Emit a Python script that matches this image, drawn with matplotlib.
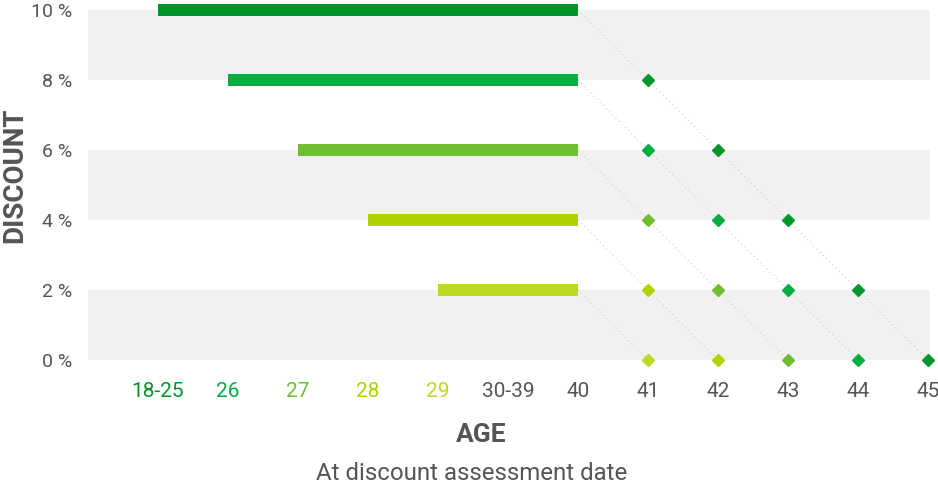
import matplotlib
matplotlib.use("Agg")
import matplotlib.pyplot as plt

plt.rcParams['font.family'] = ['Roboto', 'DejaVu Sans']

# Categories on the age axis
ages = ['18-25', '26', '27', '28', '29', '30-39', '40', '41', '42', '43', '44', '45']

# Discount rows: start age of the bar, bar ends at 40
discounts = [10, 8, 6, 4, 2]
bar_start = ['18-25', '26', '27', '28', '29']
bar_end = '40'

# Discount after 40, per row (ages 41, 42, ...)
after40_ages = ['41', '42', '43', '44', '45']
after40_10 = [8, 6, 4, 2, 0]
after40_8 = [6, 4, 2, 0]
after40_6 = [4, 2, 0]
after40_4 = [2, 0]
after40_2 = [0]
after40 = [after40_10, after40_8, after40_6, after40_4, after40_2]

row_colors = ['#00962b', '#00ae42', '#6fbe30', '#b0d300', '#bcd822']
text_gray = '#555555'
band_gray = '#f1f1f1'

W, H = 938, 492
fig = plt.figure(figsize=(W / 100, H / 100), dpi=100)
ax = fig.add_axes([88 / W, 1 - 360 / H, (930 - 88) / W, 350 / H])

pos = {a: i for i, a in enumerate(ages)}

# alternating background bands
for lo in (0, 4, 8):
    ax.axhspan(lo, lo + 2, color=band_gray, lw=0, zorder=0)

for d, start, vals, col in zip(discounts, bar_start, after40, row_colors):
    x0 = pos[start]
    x1 = pos[bar_end]
    ax.barh(d, x1 - x0, left=x0, height=0.37, color=col, zorder=3, clip_on=False)
    xs = [pos[a] for a in after40_ages[:len(vals)]]
    ax.plot([x1] + xs, [d] + vals, linestyle=(0, (1, 3)), color='#cfcfcf',
            lw=0.8, zorder=2, clip_on=False)
    ax.plot(xs, vals, 'D', ms=6.5, color=col, mec=col, zorder=4, clip_on=False)

ax.set_xlim(-1, 11.03)
ax.set_ylim(0, 10)

ax.set_xticks(range(len(ages)))
ax.set_xticklabels(ages, fontsize=15)
for lbl, a in zip(ax.get_xticklabels(), ages):
    if a in bar_start:
        lbl.set_color(row_colors[bar_start.index(a)])
    else:
        lbl.set_color(text_gray)

ax.set_yticks([0, 2, 4, 6, 8, 10])
ax.set_yticklabels([f'{v} %' for v in [0, 2, 4, 6, 8, 10]], fontsize=14, color=text_gray)

ax.tick_params(axis='x', length=0, pad=16)
ax.tick_params(axis='y', length=0, pad=11)
for s in ax.spines.values():
    s.set_visible(False)

fig.text(15 / W, 1 - 175 / H, 'DISCOUNT', rotation=90, ha='center', va='center',
         fontsize=20, fontweight='bold', color=text_gray)
fig.text(481 / W, 1 - 435 / H, 'AGE', ha='center', va='center',
         fontsize=19, fontweight='bold', color=text_gray)
fig.text(472 / W, 1 - 474 / H, 'At discount assessment date', ha='center', va='center',
         fontsize=17.3, color=text_gray)

fig.savefig('out.png', dpi=100)
